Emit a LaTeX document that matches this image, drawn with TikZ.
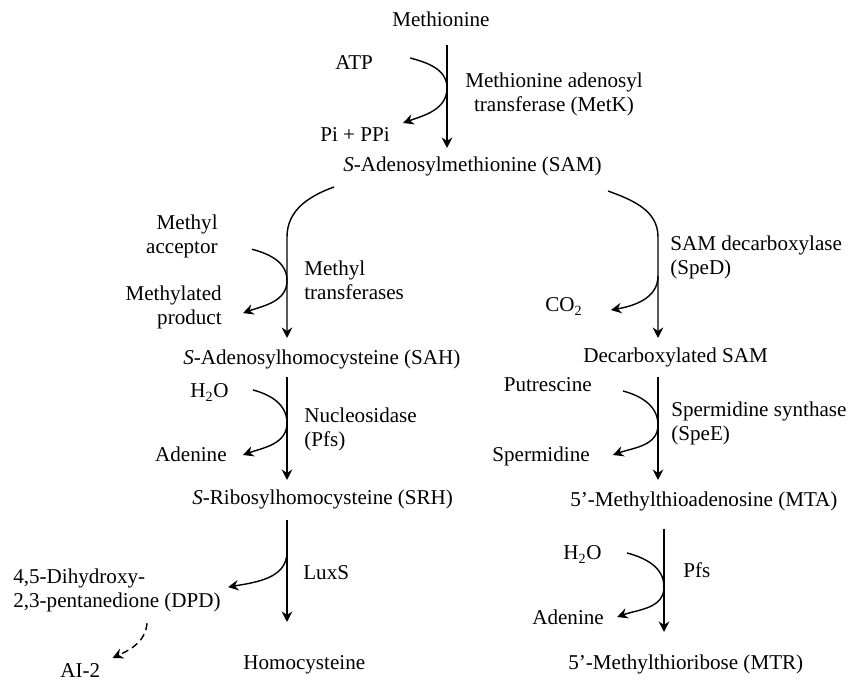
\documentclass[tikz,border=0pt]{standalone}
\usepackage{fontspec}
\setmainfont{Liberation Serif}
\usepackage{tikz}
\usetikzlibrary{calc,arrows.meta}
\tikzset{
	flow/.style={line width=0.8pt, -{Stealth[length=6pt,width=6pt,inset=2pt]}},
	lbl/.style={inner sep=0pt, font=\fontsize{12}{13.9}\selectfont}
}

\begin{document}
\begin{tikzpicture}[every node/.style={lbl}]
		%%%%% START %%%%%
		\useasboundingbox (0,0) rectangle (17.02,13.68);
		
		\coordinate (colA) at (8.94,0);
		\coordinate (colL) at (5.74,0);
		\coordinate (colR) at (13.16,0);
		\coordinate (colR2) at (13.28,0);
		
		\node[anchor=base west] (met) at (7.84, 13.14) {Methionine};
		\node[anchor=base west] (atp) at (6.70, 12.28) {ATP};
		\node[anchor=base west] (pipi) at (6.40, 10.84) {Pi + PPi};
		\node[anchor=north, align=center] (metk) at (11.08, 12.23) {Methionine adenosyl\\transferase (MetK)};
		\node[anchor=base west] (sam) at (6.86, 10.24) {\textit{S}-Adenosylmethionine (SAM)};
		
		\node[anchor=north east, align=right] (macc) at (4.36, 9.39) {Methyl\\acceptor};
		\node[anchor=north east, align=right] (mprod) at (4.44, 7.97) {Methylated\\product};
		\node[anchor=north west, align=left] (mtf) at (6.08, 8.47) {Methyl\\transferases};
		\node[anchor=base west] (sah) at (3.66, 6.38) {\textit{S}-Adenosylhomocysteine (SAH)};
		\node[anchor=base west] (wata) at (3.80, 5.72) {H\textsubscript{2}O};
		\node[anchor=base east] (adea) at (4.54, 4.44) {Adenine};
		\node[anchor=north west, align=left] (nuc) at (6.08, 5.53) {Nucleosidase\\(Pfs)};
		\node[anchor=base west] (srh) at (3.84, 3.58) {\textit{S}-Ribosylhomocysteine (SRH)};
		\node[anchor=north west, align=left] (dpd) at (0.26, 2.31) {4,5-Dihydroxy-\\2,3-pentanedione (DPD)};
		\node[anchor=base west] (luxs) at (6.06, 2.08) {LuxS};
		\node[anchor=base west] (ai2) at (1.20, 0.12) {AI-2};
		\node[anchor=base west] (hcy) at (4.86, 0.28) {Homocysteine};
		
		\node[anchor=base west] (dsam) at (11.66, 6.42) {Decarboxylated SAM};
		\node[anchor=north west, align=left] (sped) at (13.40, 8.97) {SAM decarboxylase\\(SpeD)};
		\node[anchor=base west] (co2) at (10.90, 7.44) {CO\textsubscript{2}};
		\node[anchor=base east] (put) at (11.84, 5.84) {Putrescine};
		\node[anchor=base east] (spd) at (11.80, 4.44) {Spermidine};
		\node[anchor=north west, align=left] (spee) at (13.42, 5.65) {Spermidine synthase\\(SpeE)};
		\node[anchor=base west] (mta) at (11.40, 3.54) {5'-Methylthioadenosine (MTA)};
		\node[anchor=base west] (watb) at (11.26, 2.48) {H\textsubscript{2}O};
		\node[anchor=base west] (pfs) at (13.66, 2.12) {Pfs};
		\node[anchor=base west] (adeb) at (10.64, 1.18) {Adenine};
		\node[anchor=base west] (mtrb) at (11.36, 0.28) {5'-Methylthioribose (MTR)};
		
		% Methionine -> SAM
		\draw[flow] ($(met.base -| colA)+(0,-0.36)$) -- ($(sam.base -| colA)+(0,0.48)$);
		\draw[flow] ($(atp.base east)+(0.74,0.24)$) to[out=-15,in=90] ($(atp.base -| colA)+(0,-0.36)$) to[out=-90,in=20] ($(pipi.base east)+(0.26,0.38)$);
		
		% SAM -> SAH
		\draw[flow] ($(sam.base west)+(-0.18,-0.30)$) to[out=200,in=90] ($(mtf.north -| colL)+(0,0.47)$) -- ($(sah.base -| colL)+(0,0.54)$);
		\draw[flow] ($(macc.south east)+(0.68,0.19)$) to[out=-15,in=90] (mtf.west -| colL) to[out=-90,in=20] ($(mprod.east)+(0.42,-0.11)$);
		
		% SAH -> SRH
		\draw[flow] ($(sah.base -| colL)+(0,-0.24)$) -- ($(srh.base -| colL)+(0,0.50)$);
		\draw[flow] ($(wata.base east)+(0.48,0.16)$) to[out=-15,in=90] ($(wata.base -| colL)+(0,-0.50)$) to[out=-90,in=20] ($(adea.base east)+(0.32,0.14)$);
		
		% SRH -> homocysteine
		\draw[flow] ($(srh.base -| colL)+(0,-0.30)$) -- ($(hcy.base -| colL)+(0,0.96)$);
		\draw[flow] ($(srh.base -| colL)+(0,-0.94)$) to[out=-90,in=10] ($(dpd.east)+(0.14,0.07)$);
		\draw[flow, dash pattern=on 4pt off 2.5pt] ($(dpd.south west)+(2.68,-0.21)$) to[out=-95,in=25] ($(ai2.base east)+(0.24,0.40)$);
		
		% SAM -> decarboxylated SAM
		\draw[flow] ($(sam.base east)+(0.12,-0.38)$) to[out=-20,in=90] ($(sped.north -| colR)+(0,-0.03)$) -- ($(dsam.base -| colR)+(0,0.50)$);
		\draw[flow] ($(co2.base -| colR)+(0,0.72)$) to[out=-90,in=10] ($(co2.base east)+(0.56,0.04)$);
		
		% decarboxylated SAM -> MTA
		\draw[flow] ($(dsam.base -| colR)+(0,-0.28)$) -- ($(mta.base -| colR)+(0,0.54)$);
		\draw[flow] ($(put.base east)+(0.62,0.02)$) to[out=-15,in=90] ($(put.base -| colR)+(0,-0.66)$) to[out=-90,in=20] ($(spd.base east)+(0.46,0.14)$);
		
		% MTA -> MTR
		\draw[flow] ($(mta.base -| colR2)+(0,-0.44)$) -- ($(mtrb.base -| colR2)+(0,0.76)$);
		\draw[flow] ($(watb.base east)+(0.50,0.14)$) to[out=-15,in=90] ($(watb.base -| colR2)+(0,-0.54)$) to[out=-90,in=20] ($(adeb.base east)+(0.26,0.16)$);
		
		%%%%% END %%%%%
\end{tikzpicture}
\end{document}
